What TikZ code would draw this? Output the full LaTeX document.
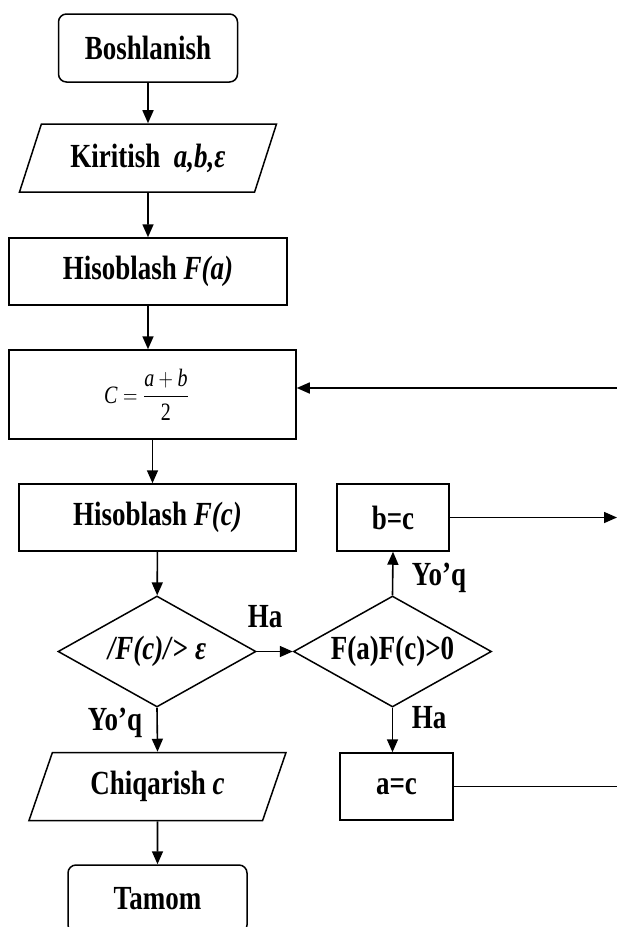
\RequirePackage{fix-cm}
\documentclass[tikz,border=0pt]{standalone}
\usepackage{amsmath}
\usepackage{fontspec}
\setmainfont{Liberation Serif}
\usetikzlibrary{shapes.geometric,arrows.meta}

\newcommand{\baland}[1]{\scalebox{1}[1.25]{#1}}

\tikzset{
  blok/.style={draw, line width=1.5pt, inner sep=0pt, align=center,
    font=\fontsize{27}{32}\selectfont\bfseries},
  terminal/.style={blok, rounded corners=8pt, minimum width=179pt, minimum height=68pt},
  jarayon/.style={blok, rectangle},
  kirish/.style={blok, trapezium, trapezium left angle=52.6, trapezium right angle=127.4,
    trapezium stretches body, minimum width=257pt, minimum height=68pt},
  shart/.style={blok, diamond, aspect=1.78, minimum width=198pt, minimum height=111pt},
  yozuv/.style={inner sep=0pt, font=\fontsize{27}{32}\selectfont\bfseries},
  oq/.style={line width=1.6pt, -{Triangle[length=13pt,width=11pt]}}
}

\begin{document}
\begin{tikzpicture}[x=1pt,y=-1pt]
  \clip (0,0) rectangle (617,927);
  % bloklar
  \node[terminal] (boshi) at (148,48) {\baland{Boshlanish}};
  \node[kirish] (kirit) at (148,158) {\baland{Kiritish~~\textit{a,b,ε}}};
  \node[jarayon, minimum width=278pt, minimum height=67pt] (hfa) at (148,271.5) {\baland{Hisoblash \textit{F(a)}}};
  \node[jarayon, minimum width=287pt, minimum height=89pt, font=\fontsize{20}{24}\selectfont] (orta) at (152.5,394.5)
    {\baland{$\mathit{C}=\dfrac{\mathit{a}+\mathit{b}}{\mathrm{2}}$}\hspace*{12pt}};
  \node[jarayon, minimum width=277pt, minimum height=67pt] (hfc) at (157.5,517.5) {\baland{Hisoblash \textit{F(c)}}};
  \node[shart] (sh1) at (157,651.5) {\baland{\textit{/F(c)/}> \textit{ε}}};
  \node[shart] (sh2) at (392.5,651.5) {\baland{F(a)F(c)>0}};
  \node[jarayon, minimum width=112pt, minimum height=67pt] (bc) at (393,517.5) {\baland{b=c}};
  \node[jarayon, minimum width=113pt, minimum height=67pt] (ac) at (396.5,786.5) {\baland{a=c}};
  \node[kirish] (chiq) at (157.5,786.5) {\baland{Chiqarish \textit{c}}};
  \node[terminal] (tamom) at (157.5,899) {\baland{Tamom}};
  % chetdagi uchlar
  \coordinate (qc) at (617,388);
  \coordinate (qb) at (617,517.5);
  \coordinate (qa) at (617,786.5);
  % strelkalar
  \begin{scope}[oq]
    \draw (boshi) -- (kirit);
    \draw (kirit) -- (hfa);
    \draw (hfa.south) -- (hfa.south |- orta.north);
    \draw (orta.south) -- (orta.south |- hfc.north);
    \draw (hfc) -- (sh1);
    \draw (sh1.east) -- (sh2.west);
    \draw (sh2.north) -- (bc.south);
    \draw (sh2.south) -- (sh2.south |- ac.north);
    \draw (sh1.south) -- (chiq.north);
    \draw (chiq.south) -- (tamom.north);
    \draw (bc.east) -- (qb);
    \draw (qc) -- (qc -| orta.east);
  \end{scope}
  \draw[line width=1.6pt] (ac.east) -- (qa);
  % yozuvlar
  \node[yozuv] (ha1) at (265,617) {\baland{Ha}};
  \node[yozuv] (yoq1) at (439,578) {\baland{Yo’q}};
  \node[yozuv] (ha2) at (429,718) {\baland{Ha}};
  \node[yozuv] (yoq2) at (115,723) {\baland{Yo’q}};
\end{tikzpicture}
\end{document}
